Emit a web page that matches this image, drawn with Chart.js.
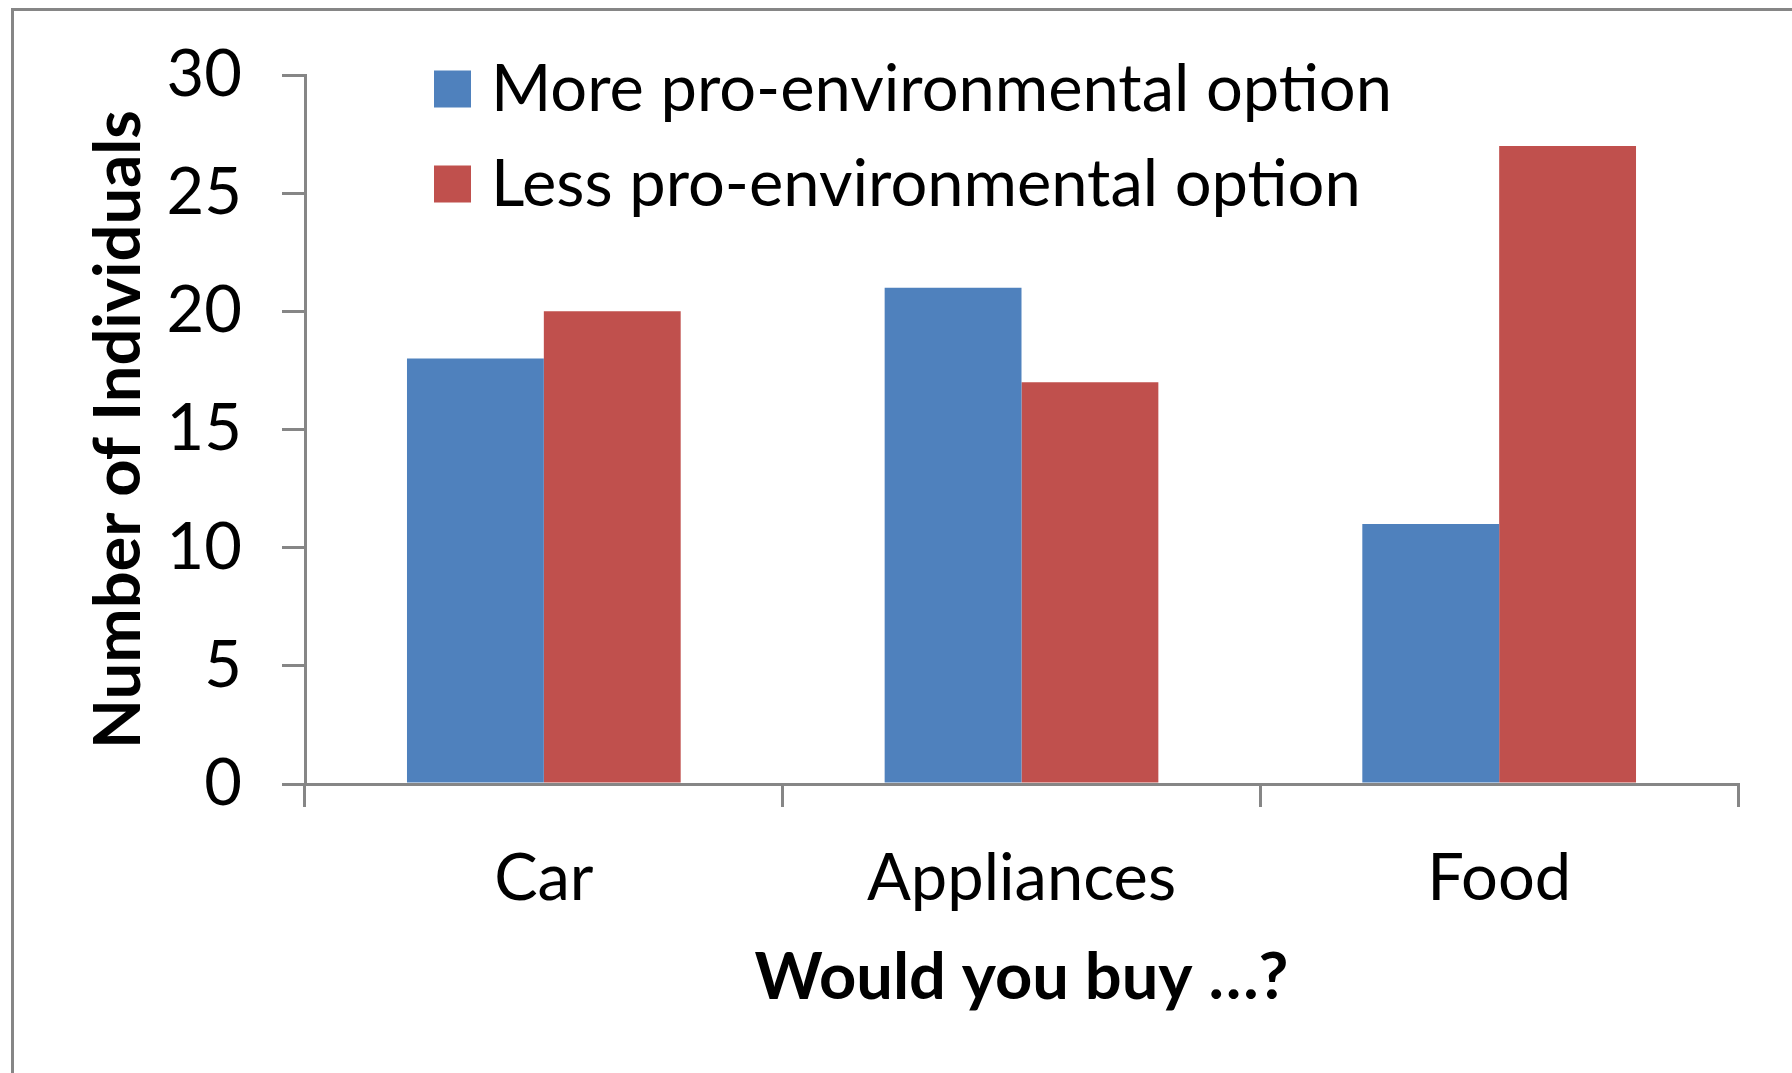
<!DOCTYPE html>
<html lang="en">
<head>
    <meta charset="UTF-8">
    <title>Would you buy ...?</title>
    <style>
        html, body { margin: 0; padding: 0; background: #fff; }
        canvas { display: block; }
    </style>
</head>
<body>

<canvas id="chartContainer" width="1792" height="1073"></canvas>

<script src="https://cdn.jsdelivr.net/npm/chart.js"></script>
<script>
// Data
const categories = ['Car', 'Appliances', 'Food'];
const seriesNames = ['More pro-environmental option', 'Less pro-environmental option'];
const moreValues = [18, 21, 11];
const lessValues = [20, 17, 27];
const yTicks = [0, 5, 10, 15, 20, 25, 30];

const BLUE = '#4F81BD';
const RED = '#C0504D';
const AXIS_GRAY = '#868686';
const FONT = 'Lato, Carlito, Calibri, sans-serif';

// outer frame (only left and top edges visible)
const framePlugin = {
    id: 'frame',
    beforeDraw(chart) {
        const ctx = chart.ctx;
        ctx.save();
        ctx.fillStyle = '#fff';
        ctx.fillRect(0, 0, chart.width, chart.height);
        ctx.strokeStyle = AXIS_GRAY;
        ctx.lineWidth = 3;
        ctx.beginPath();
        ctx.moveTo(12.5, chart.height);
        ctx.lineTo(12.5, 9.5);
        ctx.lineTo(chart.width, 9.5);
        ctx.stroke();
        ctx.restore();
    }
};

// legend drawn inside the plot area, top left
const insideLegend = {
    id: 'insideLegend',
    afterDraw(chart) {
        const ctx = chart.ctx;
        const box = 37;
        const x = 434;
        const rows = [89, 184];
        ctx.save();
        ctx.font = '65px ' + FONT;
        ctx.textBaseline = 'middle';
        ctx.textAlign = 'left';
        chart.data.datasets.forEach(function(ds, i) {
            ctx.fillStyle = ds.backgroundColor;
            ctx.fillRect(x, rows[i] - box / 2, box, box);
            ctx.fillStyle = '#000';
            ctx.fillText(ds.label, x + 57, rows[i] + 1);
        });
        ctx.restore();
    }
};

const ctx = document.getElementById('chartContainer');
const myChart = new Chart(ctx, {
    type: 'bar',
    data: {
        labels: categories,
        datasets: [{
            label: seriesNames[0],
            data: moreValues,
            backgroundColor: BLUE,
            borderWidth: 0
        }, {
            label: seriesNames[1],
            data: lessValues,
            backgroundColor: RED,
            borderWidth: 0
        }]
    },
    options: {
        responsive: false,
        animation: false,
        layout: {
            padding: { left: 0, top: 75, right: 54, bottom: 0 }
        },
        datasets: {
            bar: {
                categoryPercentage: 0.573,
                barPercentage: 1
            }
        },
        scales: {
            x: {
                afterFit: function(scale) { scale.height = 289; },
                grid: {
                    offset: true,
                    drawOnChartArea: false,
                    drawTicks: true,
                    tickLength: 23,
                    color: AXIS_GRAY,
                    lineWidth: 3
                },
                border: { color: AXIS_GRAY, width: 3 },
                ticks: {
                    color: '#000',
                    padding: 33,
                    font: { family: FONT, size: 65 }
                },
                title: {
                    display: true,
                    text: 'Would you buy …?',
                    color: '#000',
                    padding: { top: 0, bottom: 56 },
                    font: { family: FONT, size: 65, weight: 'bold' }
                }
            },
            y: {
                min: 0,
                max: 30,
                afterFit: function(scale) {
                    scale.width = 305;
                    // the top/bottom label overhang is already covered by layout padding
                    scale.paddingTop = 0;
                    scale.paddingBottom = 0;
                },
                afterBuildTicks: function(scale) {
                    scale.ticks = yTicks.map(function(v) { return { value: v }; });
                },
                grid: {
                    drawOnChartArea: false,
                    drawTicks: true,
                    tickLength: 23,
                    color: AXIS_GRAY,
                    lineWidth: 3
                },
                border: { color: AXIS_GRAY, width: 3 },
                ticks: {
                    color: '#000',
                    padding: 40,
                    font: { family: FONT, size: 65 }
                },
                title: {
                    display: true,
                    text: 'Number of Individuals',
                    color: '#000',
                    padding: { top: 80, bottom: 0 },
                    font: { family: FONT, size: 65, weight: 'bold' }
                }
            }
        },
        plugins: {
            legend: { display: false },
            tooltip: { enabled: false }
        }
    },
    plugins: [framePlugin, insideLegend]
});
</script>

</body>
</html>
